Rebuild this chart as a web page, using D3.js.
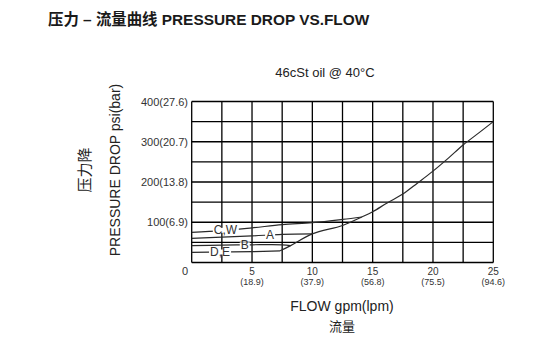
<!DOCTYPE html>
<html>
<head>
<meta charset="utf-8">
<script src="https://cdn.jsdelivr.net/npm/d3@7"></script>
<style>
  html, body { margin: 0; padding: 0; background: #fff; }
  svg { display: block; font-family: "Liberation Sans", Arial, sans-serif; }
</style>
</head>
<body>
<svg id="chart" width="539" height="352"></svg>
<script>
// ---- data ----
const yTicks = [100, 200, 300, 400];
const yTickLabels = ['100(6.9)', '200(13.8)', '300(20.7)', '400(27.6)'];
const xTicks = [5, 10, 15, 20, 25];
const xTickLpm = ['(18.9)', '(37.9)', '(56.8)', '(75.5)', '(94.6)'];

const cwFlow = [0, 2.5, 5, 7.5, 10, 12.5, 14.1];
const cwPsi = [75, 79, 86, 94, 99, 107, 113];
const aFlow = [0, 2.5, 5, 7.5, 10];
const aPsi = [60, 63, 66, 70, 71];
const bFlow = [0, 2.5, 5, 7.5, 8.2];
const bPsi = [42, 43, 44, 44, 42];
const deFlow = [0, 2.5, 5, 7.33];
const dePsi = [25, 26, 27, 29];
const mainFlow = [7.33, 8.2, 10, 12.5, 14.1, 15, 16.2, 17.5, 18.7, 20, 21.3, 22.5, 23.8, 25];
const mainPsi = [29, 42, 71, 92, 113, 126, 148, 170, 197, 227, 260, 292, 322, 350];

const curveNames = ['C,W', 'A', 'B', 'D,E'];
const labelFlow = [2.8, 6.5, 4.4, 2.35];
const labelPsi = [80, 69, 44, 26];

// ---- layout ----
const svg = d3.select('#chart');
const x = d3.scaleLinear().domain([0, 25]).range([191.7, 493.3]);
const y = d3.scaleLinear().domain([0, 400]).range([262.5, 101.5]);

// Title
svg.append('text')
    .attr('x', 48).attr('y', 25)
    .attr('font-size', 15.4).attr('font-weight', 'bold')
    .attr('fill', '#1a1a1a')
    .attr('font-family', '"Liberation Sans", "Noto Sans CJK SC", sans-serif')
    .text('压力 – 流量曲线 PRESSURE DROP VS.FLOW');

svg.append('text')
    .attr('x', 325).attr('y', 77)
    .attr('text-anchor', 'middle')
    .attr('font-size', 13).attr('fill', '#222')
    .text('46cSt oil @ 40°C');

// Grid
const g = svg.append('g');
g.selectAll('.vgrid')
    .data(d3.range(0, 25.01, 2.5))
    .join('line')
    .attr('x1', d => x(d)).attr('x2', d => x(d))
    .attr('y1', y(0)).attr('y2', y(400))
    .attr('stroke', '#000').attr('stroke-width', 1.3);
g.selectAll('.hgrid')
    .data(d3.range(0, 401, 50))
    .join('line')
    .attr('x1', x(0)).attr('x2', x(25))
    .attr('y1', d => y(d)).attr('y2', d => y(d))
    .attr('stroke', '#000').attr('stroke-width', 1.3);

// Y tick labels
svg.selectAll('.ylab')
    .data(yTicks)
    .join('text')
    .attr('x', 188).attr('y', d => y(d) + 4)
    .attr('text-anchor', 'end')
    .attr('font-size', 11).attr('fill', '#333')
    .text((d, i) => yTickLabels[i]);

// X tick labels
svg.append('text')
    .attr('x', 185).attr('y', 275)
    .attr('text-anchor', 'middle')
    .attr('font-size', 11).attr('fill', '#333')
    .text('0');
svg.selectAll('.xlab')
    .data(xTicks)
    .join('text')
    .attr('x', d => x(d)).attr('y', 275)
    .attr('text-anchor', 'middle')
    .attr('font-size', 10).attr('fill', '#333')
    .text(d => d);
svg.selectAll('.xlab2')
    .data(xTicks)
    .join('text')
    .attr('x', d => x(d)).attr('y', 285)
    .attr('text-anchor', 'middle')
    .attr('font-size', 9).attr('fill', '#333')
    .text((d, i) => xTickLpm[i]);

// Axis titles
svg.append('text')
    .attr('x', 342).attr('y', 311)
    .attr('text-anchor', 'middle')
    .attr('font-size', 14).attr('fill', '#222')
    .text('FLOW gpm(lpm)');
svg.append('text')
    .attr('x', 342).attr('y', 331)
    .attr('text-anchor', 'middle')
    .attr('font-size', 13).attr('fill', '#222')
    .attr('font-family', '"Noto Sans CJK SC", sans-serif')
    .text('流量');

svg.append('text')
    .attr('transform', 'translate(120,170) rotate(-90)')
    .attr('text-anchor', 'middle')
    .attr('font-size', 14).attr('fill', '#222')
    .text('PRESSURE DROP psi(bar)');
svg.append('text')
    .attr('transform', 'translate(90,170) rotate(-90)')
    .attr('text-anchor', 'middle')
    .attr('font-size', 15).attr('fill', '#222')
    .attr('font-family', '"Noto Sans CJK SC", sans-serif')
    .text('压力降');

// Curves
const line = d3.line()
    .x(d => x(d[0])).y(d => y(d[1]))
    .curve(d3.curveCatmullRom.alpha(0.5));
const series = [
    [cwFlow, cwPsi], [aFlow, aPsi], [bFlow, bPsi], [deFlow, dePsi], [mainFlow, mainPsi]
];
svg.selectAll('.curve')
    .data(series)
    .join('path')
    .attr('fill', 'none')
    .attr('stroke', '#2a2a2a').attr('stroke-width', 1.2)
    .attr('d', s => line(d3.zip(s[0], s[1])));

// Inline curve labels with white knock-out
curveNames.forEach((name, i) => {
    const lg = svg.append('g');
    const bg = lg.append('rect').attr('fill', '#fff');
    const t = lg.append('text')
        .attr('x', x(labelFlow[i])).attr('y', y(labelPsi[i]) + 4)
        .attr('text-anchor', 'middle')
        .attr('font-size', 12).attr('fill', '#333')
        .text(name);
    const bb = t.node().getBBox();
    bg.attr('x', bb.x - 1).attr('y', y(labelPsi[i]) - 2.5)
        .attr('width', bb.width + 2).attr('height', 5);
});
</script>
</body>
</html>
